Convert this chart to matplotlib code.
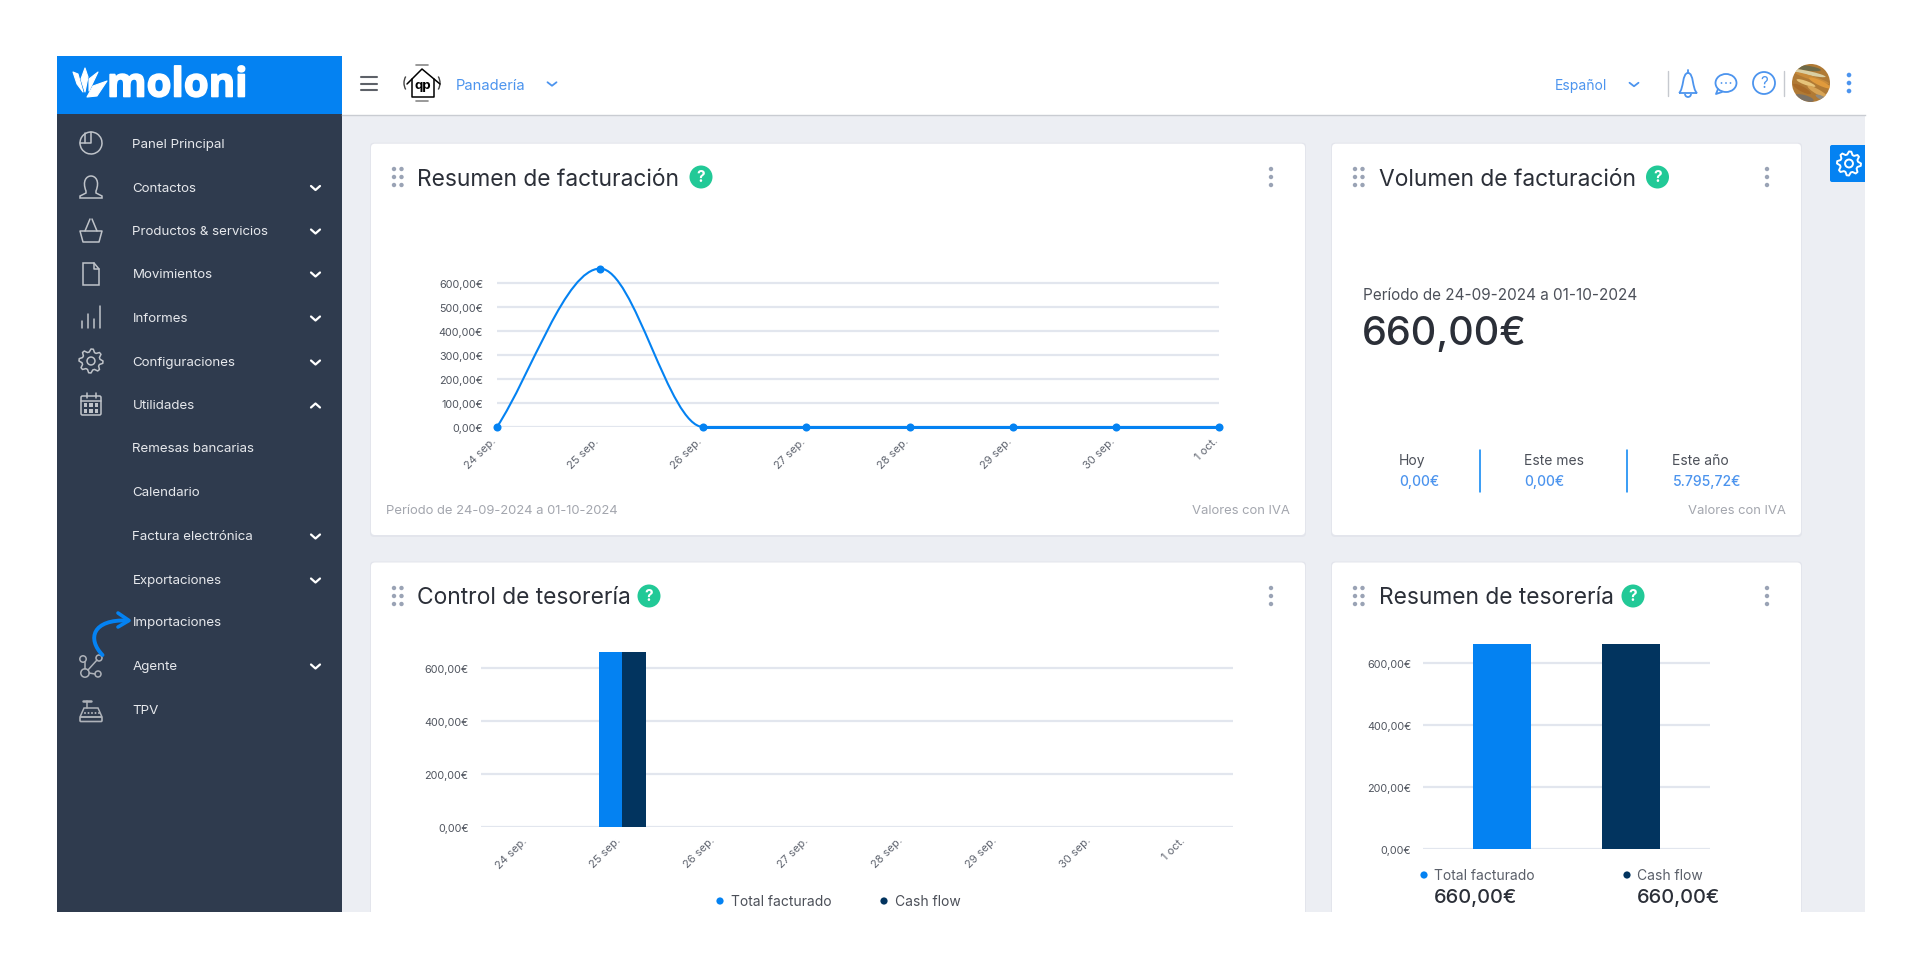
import numpy as np
import matplotlib
matplotlib.use("Agg")
import matplotlib.pyplot as plt
import matplotlib.patheffects as pe
from matplotlib.patches import Rectangle, Circle, Ellipse, FancyBboxPatch, PathPatch, Polygon, Arc
from matplotlib.path import Path
from matplotlib.transforms import ScaledTranslation

plt.rcParams["font.family"] = ["Inter", "DejaVu Sans"]

# ===============================
# Data
# ===============================
dias = ["24 sep.", "25 sep.", "26 sep.", "27 sep.", "28 sep.", "29 sep.", "30 sep.", "1 oct."]
facturacion = [0, 660, 0, 0, 0, 0, 0, 0]
total_facturado = [0, 660, 0, 0, 0, 0, 0, 0]
cash_flow = [0, 660, 0, 0, 0, 0, 0, 0]

resumen_ticks = [0, 100, 200, 300, 400, 500, 600]
resumen_labels = ["0,00€", "100,00€", "200,00€", "300,00€", "400,00€", "500,00€", "600,00€"]
tesoreria_ticks = [0, 200, 400, 600]
tesoreria_labels = ["0,00€", "200,00€", "400,00€", "600,00€"]

resumen_series = ["Total facturado", "Cash flow"]
resumen_valores = [660, 660]

menu_items = ["Panel Principal", "Contactos", "Productos & servicios", "Movimientos", "Informes",
              "Configuraciones", "Utilidades", "Remesas bancarias", "Calendario",
              "Factura electrónica", "Exportaciones", "Importaciones", "Agente", "TPV"]
menu_flecha = ["", "v", "v", "v", "v", "v", "^", "", "", "v", "v", "", "v", ""]
menu_y = [144, 187.5, 231, 274, 318, 362, 405, 448, 492, 536, 580, 622, 666, 710]

# ===============================
# Colors
# ===============================
AZUL = "#0482f2"
NAVY = "#02345f"
LADO = "#2f3b4e"
FONDO = "#eceef3"
GRID = "#e2e6ee"
VERDE = "#22c997"
LINK = "#4c94ee"
OSCURO = "#2b2f38"
GRIS_TXT = "#5f646f"
GRIS_CLARO = "#a3a6ae"
PUNTOS = "#9aa3b5"
ICONO = "#bfc3c9"

fig = plt.figure(figsize=(19.2, 9.7), dpi=100, facecolor="white")

bg = fig.add_axes([0, 0, 1, 1], zorder=0)
bg.set_xlim(0, 1920)
bg.set_ylim(970, 0)
bg.axis("off")


def px_axes(x0, y0, x1, y1):
    ax = fig.add_axes([x0 / 1920, 1 - y1 / 970, (x1 - x0) / 1920, (y1 - y0) / 970], zorder=2)
    ax.patch.set_alpha(0)
    for s in ax.spines.values():
        s.set_visible(False)
    ax.set_axisbelow(True)
    ax.grid(axis="y", color=GRID, lw=1.6)
    ax.grid(axis="x", visible=False)
    return ax


def txt(x, y, s, size=9.5, color=OSCURO, ha="left", weight="normal", **kw):
    return bg.text(x, y + 1, s, fontsize=size, color=color, ha=ha, va="center", fontweight=weight, **kw)


def line(xs, ys, color=ICONO, lw=1.1, **kw):
    bg.plot(xs, ys, color=color, lw=lw, solid_capstyle="round", solid_joinstyle="round", **kw)


def ring(cx, cy, r, color=ICONO, lw=1.1, fc="none"):
    bg.add_patch(Circle((cx, cy), r, fc=fc, ec=color, lw=lw))


def dot(cx, cy, r, color):
    bg.add_patch(Circle((cx, cy), r, fc=color, ec="none"))


def chevron(cx, cy, color="white", up=False, w=4.5, h=4, lw=1.6):
    d = -h if up else h
    line([cx - w, cx, cx + w], [cy - d / 2, cy + d / 2, cy - d / 2], color=color, lw=lw)


def gear(cx, cy, r, color=ICONO, lw=1.1, n=8):
    ang = np.linspace(0, 2 * np.pi, n * 4, endpoint=False)
    radio = np.tile([r, r, r * 0.76, r * 0.76], n)
    pts = np.c_[cx + radio * np.cos(ang), cy + radio * np.sin(ang)]
    bg.add_patch(Polygon(pts, closed=True, fc="none", ec=color, lw=lw, joinstyle="round"))
    ring(cx, cy, r * 0.33, color, lw)


def correr_labels(ax, dx_px):
    # small nudge of the rotated day labels
    off = ScaledTranslation(dx_px / 100, 0, fig.dpi_scale_trans)
    for lab in ax.get_xticklabels():
        lab.set_transform(lab.get_transform() + off)


# ===============================
# Page frame
# ===============================
bg.add_patch(Rectangle((342, 115), 1523, 798, fc=FONDO, ec="none"))
bg.add_patch(Rectangle((342, 56.7), 1523, 59, fc="white", ec="none"))
bg.plot([342, 1865], [116, 116], color="#c9ccd2", lw=1)
bg.add_patch(Rectangle((57, 115), 285, 798, fc=LADO, ec="none"))
bg.add_patch(Rectangle((57, 56.7), 285, 58.5, fc=AZUL, ec="none"))

# logo
petalos = [[(73, 73), (78, 75), (83, 93), (77, 85)],
           [(85, 69), (88, 78), (85, 93), (81, 80)],
           [(98, 73), (89, 92), (89, 80)],
           [(107, 82), (97, 97), (87, 98), (93, 87)]]
for p in petalos:
    bg.add_patch(Polygon(p, closed=True, fc="white", ec="white", lw=0.8, joinstyle="round"))
txt(107, 86, "moloni", size=29, color="white", weight="bold", family=["Open Sans", "DejaVu Sans"],
    path_effects=[pe.withStroke(linewidth=1.2, foreground="white")])

# ===============================
# Sidebar
# ===============================
for item, y, fl in zip(menu_items, menu_y, menu_flecha):
    txt(132.5, y, item, size=9.6, color="#e6e8ec")
    if fl:
        chevron(315.5, y + 1.5, up=fl == "^")

# icons
bg.add_patch(Arc((91, 144), 22, 22, theta1=-90 + 0, theta2=180, ec=ICONO, lw=1.1))
bg.add_patch(Arc((91, 144), 22, 22, theta1=180, theta2=270, ec=ICONO, lw=1.1))
line([80, 91, 91], [144, 144, 133])
line([85, 85], [134, 144])
persona = Path([(86, 192), (78, 172), (104, 172), (96, 192), (96, 194), (102, 197), (102, 199), (80, 199), (80, 197),
                (86, 194), (86, 192)],
               [Path.MOVETO, Path.CURVE4, Path.CURVE4, Path.CURVE4, Path.LINETO, Path.LINETO, Path.LINETO, Path.LINETO,
                Path.LINETO, Path.LINETO, Path.CLOSEPOLY])
bg.add_patch(PathPatch(persona, fc="none", ec=ICONO, lw=1.1))
bg.add_patch(Polygon([[80, 232], [102, 232], [99, 243], [83, 243]], closed=True, fc="none", ec=ICONO, lw=1.1,
                     joinstyle="round"))
line([85, 90], [232, 220])
line([97, 92], [232, 220])
bg.add_patch(Polygon([[83, 264], [94, 264], [99, 270], [99, 286], [83, 286]], closed=True, fc="none", ec=ICONO, lw=1.1))
line([94, 94, 99], [264, 270, 270])
for bx, by0 in [(82, 322), (88, 315), (94, 320), (100, 307)]:
    line([bx, bx], [by0, 329])
gear(91, 362, 12)
bg.add_patch(FancyBboxPatch((81, 397), 20, 19, boxstyle="round,pad=0,rounding_size=1.5", fc="none", ec=ICONO, lw=1.1))
line([81, 101], [402, 402])
line([87, 87], [394, 399])
line([96, 96], [394, 399])
for cy in [406, 412]:
    for cx in [85.5, 91, 96.5]:
        bg.add_patch(Rectangle((cx - 1.7, cy - 1.7), 3.4, 3.4, fc=ICONO, ec="none"))
# agente
ring(83, 660, 3.2, "#aeb2b9")
ring(99, 659, 3, "#aeb2b9")
ring(85, 674, 4.2, "#aeb2b9")
ring(98, 675, 3, "#aeb2b9")
line([85, 85], [663, 670], color="#aeb2b9")
line([89, 95], [674, 675], color="#aeb2b9")
line([88, 97], [671, 661], color="#aeb2b9")
# tpv
bg.add_patch(Polygon([[84, 709], [98, 709], [102, 718], [80, 718]], closed=True, fc="none", ec="#aeb2b9", lw=1.1))
bg.add_patch(FancyBboxPatch((80, 718), 22, 4.5, boxstyle="round,pad=0,rounding_size=1", fc="none", ec="#aeb2b9", lw=1.2))
for cx in [85, 88.5, 92, 95.5, 99]:
    dot(cx, 714, 1, "#aeb2b9")
line([83, 91], [701.5, 701.5], color="#aeb2b9", lw=1.8)
line([87, 87], [702, 709], color="#aeb2b9")

# blue arrow
flecha = Path([(102.5, 656), (87, 640), (92, 620), (128, 621.5)],
              [Path.MOVETO, Path.CURVE4, Path.CURVE4, Path.CURVE4])
bg.add_patch(PathPatch(flecha, fc="none", ec=AZUL, lw=2.8, capstyle="round", zorder=4))
line([118, 129, 118], [614, 621.5, 628], color=AZUL, lw=2.6, zorder=4)

# ===============================
# Top bar
# ===============================
for y in [78, 84.5, 91]:
    line([360.5, 377], [y, y], color="#5d6168", lw=1.5)

# company logo
line([407, 422, 440], [85, 70, 85], color="black", lw=1.1)
line([412, 412, 434, 434], [80, 98, 98, 80], color="black", lw=1.1)
bg.add_patch(Arc((417, 84), 26, 26, theta1=150, theta2=210, ec="#444444", lw=1))
bg.add_patch(Arc((427, 84), 26, 26, theta1=-30, theta2=30, ec="#444444", lw=1))
line([416, 428], [66, 66], color="#888888", lw=1.2)
line([416, 428], [102, 102], color="#888888", lw=1.2)
txt(423, 85.5, "qp", size=9.5, color="black", ha="center", weight="bold")

txt(456, 85, "Panadería", size=10.6, color=LINK)
chevron(552, 85, color=LINK, lw=1.3, h=3.5)
txt(1555, 85, "Español", size=10, color=LINK)
chevron(1634, 85.5, color=LINK, lw=1.3, h=3.5)
line([1668, 1668], [72, 97], color="#c6c9cf", lw=1)
line([1783.5, 1783.5], [72, 97], color="#c6c9cf", lw=1)

# bell
campana = Path([(1679, 94), (1684, 90), (1682, 74), (1688, 74), (1694, 74), (1692, 90), (1697, 94), (1679, 94)],
               [Path.MOVETO, Path.CURVE4, Path.CURVE4, Path.CURVE4, Path.CURVE4, Path.CURVE4, Path.CURVE4, Path.LINETO])
bg.add_patch(PathPatch(campana, fc="none", ec=LINK, lw=1.3))
bg.add_patch(Arc((1688, 95), 6, 6, theta1=0, theta2=180, ec=LINK, lw=1.3))
line([1688, 1688], [71, 74], color=LINK, lw=1.3)
# chat
bg.add_patch(Ellipse((1726, 84), 21, 18, fc="none", ec=LINK, lw=1.3))
line([1718, 1716, 1722], [90, 95, 93], color=LINK, lw=1.3)
for cx in [1721.5, 1726, 1730.5]:
    dot(cx, 84, 0.9, LINK)
# help
ring(1764, 84, 11, LINK, 1.3)
txt(1764, 83, "?", size=11, color=LINK, ha="center")

# avatar
foto = Circle((1811, 84), 19, fc="#b07a35", ec="none")
bg.add_patch(foto)
rayas = [(1806, 69, 30, 5, 8, "#6e6a48"), (1808, 74, 36, 4, 12, "#d9cfa4"), (1812, 79, 36, 4, 18, "#c98b3a"),
         (1806, 84, 20, 4, 20, "#e6c47a"), (1820, 84, 24, 5, 25, "#e09a3c"), (1802, 90, 20, 5, 28, "#a86a28"),
         (1818, 93, 24, 5, 30, "#d8a455"), (1804, 99, 20, 6, 15, "#7b7266"), (1822, 99, 14, 4, 25, "#8f8a80")]
for ex, ey, w, h, ang, col in rayas:
    e = Ellipse((ex, ey), w, h, angle=ang, fc=col, ec="none")
    bg.add_patch(e)
    e.set_clip_path(foto)
for y in [76, 84, 92]:
    dot(1849, y, 2.3, LINK)

# settings tab
bg.add_patch(FancyBboxPatch((1830, 146), 50, 37, boxstyle="round,pad=0,rounding_size=2", fc=AZUL, ec="none"))
gear(1849, 164.5, 12, color="white", lw=1.4)
bg.add_patch(Rectangle((1865, 140), 30, 50, fc="white", ec="none"))

# ===============================
# Cards
# ===============================
tarjetas = [(371, 144.7, 934, 391.3), (1332, 144.7, 469, 391.3), (371, 563.5, 934, 370), (1332, 563.5, 469, 370)]
for x, y, w, h in tarjetas:
    bg.add_patch(FancyBboxPatch((x - 1, y - 1), w + 2, h + 3, boxstyle="round,pad=0,rounding_size=4",
                                fc="#e3e5ec", ec="none"))
    bg.add_patch(FancyBboxPatch((x, y), w, h, boxstyle="round,pad=0,rounding_size=4", fc="white", ec="none"))
bg.add_patch(Rectangle((0, 913), 1920, 57, fc="white", ec="none", zorder=3))

titulos = [("Resumen de facturación", 417, 178, 394, 701, 1271),
           ("Volumen de facturación", 1379, 178, 1355, 1657.5, 1767),
           ("Control de tesorería", 417, 597, 394, 649, 1271),
           ("Resumen de tesorería", 1379, 597, 1355, 1633, 1767)]
for t, tx, ty, dx, hx, kx in titulos:
    txt(tx, ty + 0.5, t, size=16.4, color=OSCURO)
    for off in [-8, 0, 8]:
        dot(dx, ty + off, 2.2, PUNTOS)
        dot(dx + 7.5, ty + off, 2.2, PUNTOS)
        dot(kx, ty + off, 2.2, PUNTOS)
    dot(hx, ty, 11.5, VERDE)
    txt(hx, ty - 1, "?", size=11, color="white", ha="center", weight="bold")

# ===============================
# Resumen de facturacion (line)
# ===============================
ax1 = px_axes(497, 256, 1219, 428)
ax1.set_xlim(0, 7)
ax1.set_ylim(0, 172 / 0.24)

x_idx = np.arange(len(dias))
y_val = np.array(facturacion, dtype=float)

# monotone tangents, drawn as bezier segments
sec = np.diff(y_val)
tang = np.zeros(len(y_val))
tang[0] = sec[0]
tang[-1] = sec[-1]
for i in range(1, len(y_val) - 1):
    tang[i] = 0 if sec[i - 1] * sec[i] <= 0 else (sec[i - 1] + sec[i]) / 2

verts = [(x_idx[0], y_val[0])]
codes = [Path.MOVETO]
for i in range(len(x_idx) - 1):
    verts += [(x_idx[i] + 1 / 3, y_val[i] + tang[i] / 3),
              (x_idx[i + 1] - 1 / 3, y_val[i + 1] - tang[i + 1] / 3),
              (x_idx[i + 1], y_val[i + 1])]
    codes += [Path.CURVE4, Path.CURVE4, Path.CURVE4]
ax1.add_patch(PathPatch(Path(verts, codes), fc="none", ec=AZUL, lw=1.5, clip_on=False))
ax1.plot(x_idx[2:], y_val[2:], color=AZUL, lw=2.2, clip_on=False, zorder=3)
ax1.plot(x_idx, y_val, "o", color=AZUL, ms=5.8, mew=0, clip_on=False, zorder=4)

ax1.set_yticks(resumen_ticks)
ax1.set_yticklabels(resumen_labels)
ax1.set_xticks(x_idx)
ax1.set_xticklabels(dias, rotation=45, ha="right", va="center", rotation_mode="anchor")
ax1.tick_params(axis="y", length=0, pad=10, labelsize=7.8, labelcolor="#50555f")
ax1.tick_params(axis="x", length=0, pad=8.5, labelsize=8.0, labelcolor=GRIS_TXT)
correr_labels(ax1, -3)

txt(386, 510, "Período de 24-09-2024 a 01-10-2024", size=9.4, color=GRIS_CLARO)
txt(1290, 510, "Valores con IVA", size=9.4, color=GRIS_CLARO, ha="right")

# ===============================
# Volumen de facturacion
# ===============================
txt(1363, 295, "Período de 24-09-2024 a 01-10-2024", size=11, color="#4c5059")
txt(1362, 334, "660,00€", size=28.5, color=OSCURO, weight="medium")

for lx, a, b in [(1399, "Hoy", "0,00€"), (1524, "Este mes", "0,00€"), (1672.5, "Este año", "5.795,72€")]:
    txt(lx, 460, a, size=10, color="#4c5059")
    txt(lx, 481, b, size=10, color=LINK, weight="medium")
line([1480, 1480], [451, 493], color=AZUL, lw=1.1)
line([1627, 1627], [451, 493], color=AZUL, lw=1.1)
txt(1786, 510, "Valores con IVA", size=9.4, color=GRIS_CLARO, ha="right")

# ===============================
# Control de tesoreria (bars)
# ===============================
ax3 = px_axes(481, 640, 1233, 828)
ax3.set_xlim(-0.5, 7.5)
ax3.set_ylim(0, 188 / 0.265)
ancho = 0.25
ax3.bar(x_idx - ancho / 2, total_facturado, ancho, color=AZUL)
ax3.bar(x_idx + ancho / 2, cash_flow, ancho, color=NAVY)
ax3.set_yticks(tesoreria_ticks)
ax3.set_yticklabels(tesoreria_labels)
ax3.set_xticks(x_idx)
ax3.set_xticklabels(dias, rotation=45, ha="right", va="center", rotation_mode="anchor")
ax3.tick_params(axis="y", length=0, pad=9, labelsize=7.8, labelcolor="#50555f")
ax3.tick_params(axis="x", length=0, pad=8, labelsize=8.0, labelcolor=GRIS_TXT)
correr_labels(ax3, -3)

dot(720, 902, 3.6, AZUL)
txt(731, 901, resumen_series[0], size=10, color="#4c5059")
dot(884, 902, 3.6, NAVY)
txt(895, 901, resumen_series[1], size=10, color="#4c5059")

# ===============================
# Resumen de tesoreria (bars)
# ===============================
ax4 = px_axes(1423, 640, 1710, 850)
ax4.set_xlim(-0.61, 1.61)
ax4.set_ylim(0, 210 / 0.31)
ax4.bar([0, 1], resumen_valores, 0.448, color=[AZUL, NAVY])
ax4.set_yticks(tesoreria_ticks)
ax4.set_yticklabels(tesoreria_labels)
ax4.set_xticks([])
ax4.tick_params(axis="y", length=0, pad=8.5, labelsize=7.8, labelcolor="#50555f")

for serie, valor, px, col in zip(resumen_series, resumen_valores, [1424, 1627], [AZUL, NAVY]):
    dot(px, 876, 3.6, col)
    txt(px + 10, 875, serie, size=10, color="#5a5f69")
    txt(px + 10, 897, f"{valor},00€", size=14.4, color=OSCURO, weight="medium")

fig.savefig("out.png", dpi=100, facecolor="white")
